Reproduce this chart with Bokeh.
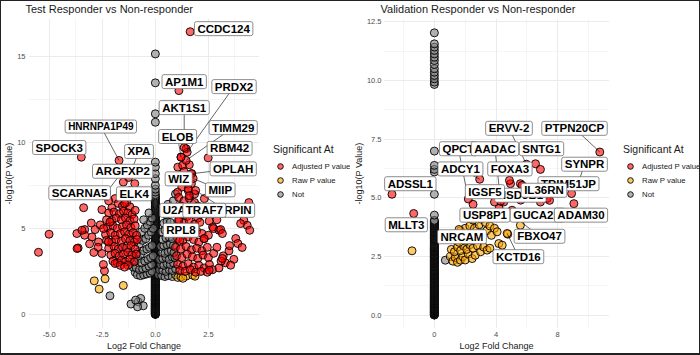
from bokeh.plotting import figure
from bokeh.models import ColumnDataSource, FixedTicker, Legend, LegendItem, Label
from bokeh.layouts import row
from bokeh.embed import file_html
from bokeh.resources import INLINE

FONT = "Liberation Sans"

# ------------------------------------------------------------------ data: left panel
left_title = "Test Responder vs Non-responder"
left_x_ticks = [-5.0, -2.5, 0.0, 2.5]
left_x_labels = ["-5.0", "-2.5", "0.0", "2.5"]
left_x_minor = [-3.75, -1.25, 1.25, 3.75]
left_y_ticks = [0, 5, 10, 15]
left_y_labels = ["0", "5", "10", "15"]
left_y_minor = [2.5, 7.5, 12.5]

# "Not" genes with log2FC == 0 (the stacked column), read in two passes
left_zero_col_logp = [
    0.0, 0.02, 0.05, 0.08, 0.11, 0.14, 0.17, 0.2, 0.23, 0.26, 0.29, 0.32, 0.35, 0.39, 0.42, 0.45,
    0.48, 0.52, 0.55, 0.58, 0.62, 0.65, 0.68, 0.72, 0.75, 0.79, 0.82, 0.86, 0.89, 0.93, 0.96, 1.0,
    1.04, 1.07, 1.11, 1.15, 1.18, 1.22, 1.26, 1.3, 1.34, 1.37, 1.41, 1.45, 1.49, 1.53, 1.57, 1.61,
    1.65, 1.69, 1.73, 1.77, 1.81, 1.86, 1.9, 1.94, 1.98, 2.02, 2.07, 2.11, 2.15, 2.2, 2.24, 2.28,
    2.33, 2.37, 2.42, 2.46, 2.51, 2.55, 2.6, 2.64, 2.69, 2.74, 2.78, 2.83, 2.88, 2.93, 2.97, 3.02,
    3.07, 3.12, 3.17, 3.22, 3.27, 3.32, 3.37, 3.42, 3.47, 3.52, 3.58, 3.63, 3.68, 3.74, 3.79, 3.84,
    3.9, 3.95, 4.01, 4.06, 4.12, 4.18, 4.24, 4.29, 4.35, 4.41, 4.47, 4.53, 4.59, 4.65, 4.72, 4.78,
    4.84, 4.91, 4.97, 5.04, 5.1, 5.17, 5.24, 5.31, 5.38, 5.45, 5.52, 5.6, 5.67, 5.75, 5.83, 5.91,
    5.99, 6.08, 6.17, 6.26, 6.36, 6.46, 6.57, 6.69, 6.82, 6.96, 7.11, 7.28, 7.5, 7.89, 8.18, 8.56,
    8.85, 11.17, 11.66, 13.46, 15.14]
left_zero_col_logp_b = [
    0.01, 0.035, 0.065, 0.095, 0.125, 0.155, 0.185, 0.215, 0.245, 0.275, 0.305, 0.335, 0.37, 0.405,
    0.435, 0.465, 0.5, 0.535, 0.565, 0.6, 0.635, 0.665, 0.7, 0.735, 0.77, 0.805, 0.84, 0.875, 0.91,
    0.945, 0.98, 1.02, 1.055, 1.09, 1.13, 1.165, 1.2, 1.24, 1.28, 1.32, 1.355, 1.39, 1.43, 1.47,
    1.51, 1.55, 1.59, 1.63, 1.67, 1.71, 1.75, 1.79, 1.835, 1.88, 1.92, 1.96, 2.0, 2.045, 2.09, 2.13,
    2.175, 2.22, 2.26, 2.305, 2.35, 2.395, 2.44, 2.485, 2.53, 2.575, 2.62, 2.665, 2.715, 2.76,
    2.805, 2.855, 2.905, 2.95, 2.995, 3.045, 3.095, 3.145, 3.195, 3.245, 3.295, 3.345, 3.395,
    3.445, 3.495, 3.55, 3.605, 3.655, 3.71, 3.765, 3.815, 3.87, 3.925, 3.98, 4.035, 4.09, 4.15,
    4.21, 4.265, 4.32, 4.38, 4.44, 4.5, 4.56, 4.62, 4.685, 4.75, 4.81, 4.875, 4.94, 5.005, 5.07,
    5.135, 5.205, 5.275, 5.345, 5.415, 5.485, 5.56, 5.635, 5.71, 5.79, 5.87, 5.95, 6.035, 6.125,
    6.215, 6.31, 6.41, 6.515, 6.63, 6.755, 6.89]

left_not = [
    (-0.95, 2.45), (-0.85, 2.3), (-0.7, 2.25), (-0.55, 2.3), (-0.4, 2.35), (-0.25, 2.4), (-0.15, 2.5),
    (-1.05, 2.75), (-0.9, 2.7), (-0.75, 2.6), (-0.6, 2.65), (-0.45, 2.7), (-0.3, 2.8), (-0.18, 2.9),
    (-0.95, 3.1), (-0.8, 3.2), (-0.65, 3.0), (-0.5, 3.1), (-0.35, 3.2), (-0.22, 3.3), (-0.1, 3.4),
    (-0.85, 3.6), (-0.7, 3.5), (-0.55, 3.7), (-0.4, 3.8), (-0.28, 3.9), (-0.15, 4.0),
    (-0.75, 4.1), (-0.6, 4.3), (-0.45, 4.4), (-0.32, 4.6), (-0.2, 4.8), (-0.1, 5.0),
    (-0.65, 4.8), (-0.5, 5.0), (-0.38, 5.2), (-0.25, 5.4), (-0.15, 5.6), (-0.55, 5.5), (-0.3, 5.9),
    (-2.14, 1.08), (-1.15, 0.6), (-0.81, 0.73), (-0.69, 0.93), (-0.57, 0.5), (-0.84, 0.44), (-0.93, 0.83),
    (0.15, 2.3), (0.3, 2.25), (0.45, 2.2), (0.6, 2.25), (0.8, 2.2), (0.95, 2.3),
    (0.2, 2.6), (0.35, 2.55), (0.5, 2.5), (0.65, 2.6), (0.8, 2.55), (0.95, 2.65),
    (0.25, 2.9), (0.4, 2.85), (0.55, 2.95), (0.7, 2.9), (0.85, 3.0),
    (0.2, 3.2), (0.35, 3.25), (0.5, 3.3), (0.65, 3.2), (0.8, 3.35), (0.92, 3.3),
    (0.3, 3.6), (0.45, 3.55), (0.6, 3.65), (0.75, 3.7), (0.88, 3.6),
    (0.25, 3.95), (0.4, 4.0), (0.55, 4.05), (0.7, 4.1), (0.85, 4.0),
    (0.35, 4.35), (0.5, 4.45), (0.65, 4.5), (0.8, 4.4),
    (0.3, 4.8), (0.45, 4.9), (0.6, 4.95), (0.75, 4.85),
    (0.4, 5.3), (0.55, 5.4), (0.7, 5.35), (0.5, 5.8), (0.65, 6.0), (0.6, 6.4),
    (0.85, 6.6), (0.95, 7.0)]

left_raw = [(-2.88, 1.95), (-2.37, 2.07), (-2.65, 1.47), (-1.51, 1.68),
            (1.06, 2.15), (1.21, 2.18), (1.45, 2.22), (1.76, 2.28), (1.87, 2.22), (1.3, 2.1)]

left_adj = [
    (-1.9, 6.73), (-1.75, 6.45), (-1.55, 6.3), (-1.35, 6.5), (-1.2, 6.25), (-2.05, 6.2),
    (-2.2, 5.9), (-1.95, 5.95), (-1.7, 5.85), (-1.5, 6.0), (-1.3, 5.9), (-1.1, 5.8), (-0.95, 6.05),
    (-2.3, 5.5), (-2.05, 5.45), (-1.85, 5.6), (-1.6, 5.5), (-1.4, 5.6), (-1.2, 5.45), (-1.0, 5.55),
    (-2.25, 5.05), (-2.0, 5.15), (-1.8, 5.0), (-1.55, 5.1), (-1.35, 5.2), (-1.15, 5.05), (-0.95, 5.15),
    (-2.35, 4.65), (-2.1, 4.75), (-1.9, 4.6), (-1.65, 4.7), (-1.45, 4.8), (-1.25, 4.65), (-1.05, 4.75), (-0.88, 4.6),
    (-2.3, 4.3), (-2.05, 4.2), (-1.85, 4.35), (-1.6, 4.25), (-1.4, 4.4), (-1.2, 4.3), (-1.0, 4.2), (-0.85, 4.35),
    (-2.2, 3.85), (-1.95, 3.95), (-1.75, 3.8), (-1.55, 3.9), (-1.35, 3.85), (-1.15, 4.0), (-0.95, 3.8),
    (-2.1, 3.45), (-1.9, 3.55), (-1.7, 3.4), (-1.5, 3.5), (-1.3, 3.6), (-1.1, 3.45), (-0.9, 3.5),
    (-2.0, 3.1), (-1.8, 3.0), (-1.6, 3.15), (-1.4, 3.05), (-1.2, 3.2), (-1.0, 3.05),
    (-1.9, 2.96), (-1.65, 2.85), (-1.28, 2.86), (-1.45, 2.75),
    (-1.51, 7.69), (-0.97, 7.6), (-1.2, 7.2), (-3.38, 6.2), (-2.52, 6.09), (-5.01, 4.66), (-5.51, 3.61),
    (-3.7, 4.7), (-3.33, 4.93), (-3.33, 4.6), (-3.64, 3.86), (-3.02, 5.31), (-2.84, 4.93), (-2.99, 4.5),
    (-2.68, 4.21), (-2.21, 4.21), (-2.14, 5.37), (-2.52, 3.54), (-2.4, 2.53), (-2.7, 3.9), (-2.6, 5.2),
    (-2.9, 3.6), (-3.1, 4.1), (-2.45, 2.9), (-2.44, 4.99), (-3.46, 4.89), (-3.69, 3.83),
    (1.45, 9.63), (1.21, 9.14), (1.06, 8.56), (1.29, 8.66), (1.71, 8.18), (1.35, 8.3), (1.6, 8.7),
    (1.15, 7.9), (1.4, 7.75), (1.7, 7.6), (1.25, 7.4), (1.55, 7.2), (1.05, 7.1), (1.85, 7.0),
    (1.1, 6.8), (1.35, 6.6), (1.6, 6.75), (1.85, 6.5), (1.2, 6.3), (1.45, 6.2), (1.7, 6.1), (2.0, 6.3), (2.31, 6.73),
    (1.0, 5.9), (1.25, 5.8), (1.5, 5.7), (1.75, 5.85), (2.0, 5.6), (1.1, 5.4), (1.35, 5.3), (1.6, 5.45),
    (1.85, 5.25), (2.1, 5.35), (2.7, 5.08), (2.54, 5.43),
    (0.95, 4.9), (1.2, 4.8), (1.45, 4.95), (1.7, 4.75), (1.95, 4.85), (2.2, 4.7), (1.05, 4.4), (1.3, 4.3),
    (1.55, 4.5), (1.8, 4.35), (2.05, 4.2), (2.3, 4.4), (2.74, 4.99), (3.0, 4.89), (3.08, 4.93), (3.16, 4.7), (2.5, 4.6),
    (0.95, 3.9), (1.2, 3.8), (1.45, 3.95), (1.7, 3.75), (1.95, 3.85), (2.2, 3.7), (2.45, 3.9), (1.0, 3.4),
    (1.25, 3.3), (1.5, 3.5), (1.75, 3.35), (2.0, 3.25), (2.25, 3.45), (2.5, 3.3), (2.75, 3.55), (3.47, 3.69),
    (3.2, 3.4), (2.9, 3.9),
    (1.05, 2.9), (1.3, 2.8), (1.55, 2.95), (1.8, 2.75), (2.05, 2.85), (2.3, 2.7), (2.55, 2.9), (1.15, 2.55),
    (1.4, 2.5), (1.65, 2.6), (1.9, 2.45), (2.15, 2.5), (2.45, 2.45), (2.7, 2.6), (3.0, 2.7), (3.3, 3.0),
    (4.41, 6.5), (4.17, 5.47), (4.33, 5.18), (4.45, 4.89), (3.79, 4.41), (3.89, 4.12), (4.09, 3.89),
    (4.02, 5.28), (3.5, 4.0), (3.7, 3.2), (3.1, 3.1), (2.6, 6.0), (2.9, 5.5), (3.16, 3.25), (3.55, 2.86),
    (2.54, 2.57), (2.3, 4.41)]

left_genes = ["CCDC124", "AP1M1", "PRDX2", "AKT1S1", "HNRNPA1P49", "TIMM29", "ELOB", "SPOCK3",
              "RBM42", "XPA", "OPLAH", "ARGFXP2", "WIZ", "MIIP", "SCARNA5", "ELK4", "U2AF1",
              "SHARPIN", "TRAF7", "RPL8"]
left_gene_lfc = [1.64, 1.11, 1.5, 1.36, -1.71, 1.45, 1.21, -3.49, 2.49, -1.26, 1.71, -2.3, 1.55,
                 1.78, -2.2, -1.45, 1.1, 1.9, 1.6, 1.15]
left_gene_logp = [16.43, 13.01, 9.43, 9.7, 8.95, 8.95, 9.14, 9.14, 9.1, 7.96, 8.18, 7.1, 7.3, 7.9,
                  6.6, 6.45, 5.5, 7.2, 6.9, 4.3]
left_gene_sig = ["adj"] * 20

# label placement (repel layout) for the left panel
left_label_x = [3.22, 1.36, 3.71, 1.36, -2.57, 3.67, 1.05, -4.53, 3.5, -0.77, 3.67, -1.54, 1.1,
                3.06, -3.57, -1.0, 1.21, 3.32, 2.31, 1.21]
left_label_y = [16.61, 13.53, 13.24, 12.02, 10.92, 10.86, 10.34, 9.7, 9.65, 9.47, 8.46, 8.32, 7.88,
                7.24, 7.07, 7.01, 6.05, 6.05, 6.05, 4.89]
left_with_segment = ["PRDX2", "AKT1S1", "HNRNPA1P49", "TIMM29", "ELOB", "XPA", "OPLAH", "ARGFXP2",
                     "WIZ", "MIIP", "SCARNA5", "TRAF7", "SHARPIN"]

# ------------------------------------------------------------------ data: right panel
right_title = "Validation Responder vs Non-responder"
right_x_ticks = [0, 4, 8]
right_x_labels = ["0", "4", "8"]
right_x_minor = [-2, 2, 6, 10]
right_y_ticks = [0.0, 2.5, 5.0, 7.5, 10.0, 12.5]
right_y_labels = ["0.0", "2.5", "5.0", "7.5", "10.0", "12.5"]
right_y_minor = [1.25, 3.75, 6.25, 8.75, 11.25]

right_zero_col_logp = [
    0.0, 0.02, 0.04, 0.06, 0.09, 0.11, 0.13, 0.16, 0.18, 0.21, 0.23, 0.26, 0.28, 0.31, 0.33, 0.36,
    0.39, 0.41, 0.44, 0.47, 0.49, 0.52, 0.55, 0.58, 0.61, 0.63, 0.66, 0.69, 0.72, 0.75, 0.78, 0.81,
    0.84, 0.87, 0.9, 0.93, 0.96, 0.99, 1.02, 1.05, 1.08, 1.12, 1.15, 1.18, 1.21, 1.24, 1.28, 1.31,
    1.34, 1.37, 1.41, 1.44, 1.47, 1.51, 1.54, 1.57, 1.61, 1.64, 1.68, 1.71, 1.74, 1.78, 1.81, 1.85,
    1.88, 1.92, 1.95, 1.99, 2.03, 2.06, 2.1, 2.13, 2.17, 2.21, 2.24, 2.28, 2.32, 2.35, 2.39, 2.43,
    2.47, 2.5, 2.54, 2.58, 2.62, 2.66, 2.7, 2.74, 2.78, 2.81, 2.85, 2.89, 2.93, 2.97, 3.01, 3.05,
    3.1, 3.14, 3.18, 3.22, 3.26, 3.3, 3.34, 3.39, 3.43, 3.47, 3.52, 3.56, 3.6, 3.65, 3.69, 3.74,
    3.78, 3.83, 3.88, 3.93, 3.98, 4.04, 4.26, 5.15, 6.1, 6.21, 6.38, 6.99, 9.83, 9.93, 10.07,
    10.21, 10.35, 10.5, 10.68, 10.85, 10.99, 11.13, 11.28, 11.42, 11.56, 12.03]
right_zero_col_logp_b = [
    0.01, 0.03, 0.05, 0.075, 0.1, 0.12, 0.145, 0.17, 0.195, 0.22, 0.245, 0.27, 0.295, 0.32, 0.345,
    0.375, 0.4, 0.425, 0.455, 0.48, 0.505, 0.535, 0.565, 0.595, 0.62, 0.645, 0.675, 0.705, 0.735,
    0.765, 0.795, 0.825, 0.855, 0.885, 0.915, 0.945, 0.975, 1.005, 1.035, 1.065, 1.1, 1.135, 1.165,
    1.195, 1.225, 1.26, 1.295, 1.325, 1.355, 1.39, 1.425, 1.455, 1.49, 1.525, 1.555, 1.59, 1.625,
    1.66, 1.695, 1.725, 1.76, 1.795, 1.83, 1.865, 1.9, 1.935, 1.97, 2.01, 2.045, 2.08, 2.115, 2.15,
    2.19, 2.225, 2.26, 2.3, 2.335, 2.37, 2.41, 2.45, 2.485, 2.52, 2.56, 2.6, 2.64, 2.68, 2.72,
    2.76, 2.795, 2.83, 2.87, 2.91, 2.95, 2.99, 3.03, 3.075, 3.12, 3.16, 3.2, 3.24, 3.28, 3.32,
    3.365, 3.41, 3.45, 3.495, 3.54, 3.58, 3.625, 3.67, 3.715, 3.76, 3.805, 3.855, 3.905, 3.955,
    4.01]

right_not = [(0.71, 2.34)]

right_raw = [
    (-1.45, 2.74),
    (1.04, 2.5), (1.2, 2.3), (1.35, 2.45), (1.5, 2.25), (1.69, 2.34), (1.85, 2.5), (2.0, 2.35),
    (2.2, 2.6), (2.45, 2.41), (2.65, 2.55),
    (1.1, 2.8), (1.3, 2.7), (1.5, 2.9), (1.7, 2.75), (1.9, 2.95), (2.1, 2.8), (2.3, 3.0), (2.5, 2.85),
    (2.8, 2.95), (3.0, 2.7), (3.2, 2.9), (3.42, 2.77), (3.6, 2.85),
    (1.4, 3.2), (1.6, 3.1), (1.8, 3.3), (2.0, 3.15), (2.2, 3.35), (2.4, 3.2), (2.6, 3.4), (2.9, 3.3),
    (3.1, 3.5), (3.4, 3.6), (3.7, 3.4), (4.18, 3.05), (4.4, 2.98),
    (1.7, 3.6), (2.0, 3.7), (2.3, 3.8), (2.6, 3.7), (2.9, 3.85), (3.3, 3.95), (3.6, 3.8), (3.9, 3.7),
    (4.07, 3.55), (4.76, 3.45), (5.58, 3.83), (2.5, 4.05), (3.0, 4.1)]

right_adj = [(4.94, 5.6), (5.58, 5.6), (6.56, 6.45), (3.9, 4.82), (4.5, 4.82), (5.6, 4.9),
             (6.88, 4.82), (7.32, 4.97), (6.3, 5.0), (4.2, 4.55)]

right_genes = ["ERVV-2", "PTPN20CP", "QPCT", "AADAC", "SNTG1", "SYNPR", "ADCY1", "FOXA3", "ADSSL1",
               "TRIM51JP", "HSD3B1", "IGSF5", "IL36RN", "USP8P1", "GUCA2B", "ADAM30", "MLLT3",
               "NRCAM", "FBXO47", "KCTD16"]
right_gene_lfc = [5.97, 10.73, 2.2, 4.3, 6.88, 9.3, 2.94, 4.87, -2.75, 8.9, 5.69, 2.51, 7.47, 1.9,
                  5.04, 9.05, -1.34, 1.6, 4.98, 4.72]
right_gene_logp = [6.43, 6.95, 4.95, 4.85, 6.21, 5.55, 5.79, 5.74, 5.15, 5.18, 5.53, 4.72, 4.89,
                   3.2, 4.47, 4.75, 4.33, 3.65, 4.3, 3.48]
right_gene_sig = ["adj"] * 13 + ["raw"] + ["adj"] * 3 + ["raw", "adj", "raw"]

right_label_x = [4.84, 9.09, 1.56, 3.93, 6.95, 9.74, 1.69, 4.9, -1.56, 8.7, 5.58, 3.28, 7.11, 3.28,
                 6.69, 9.51, -1.82, 1.79, 6.82, 5.45]
right_label_y = [7.96, 7.96, 7.09, 7.09, 7.09, 6.43, 6.23, 6.23, 5.6, 5.6, 5.11, 5.26, 5.32, 4.26,
                 4.26, 4.26, 3.85, 3.34, 3.36, 2.49]
right_with_segment = ["ERVV-2", "PTPN20CP", "QPCT", "AADAC", "SYNPR", "ADCY1", "USP8P1", "GUCA2B",
                      "FBXO47", "KCTD16"]

legend_title = "Significant At"
legend_labels = ["Adjusted P value", "Raw P value", "Not"]

# ------------------------------------------------------------------ styling
COL = {"adj": "red", "raw": "orange", "not": "grey"}
PT = dict(size=8, fill_alpha=0.6, line_color="black", line_alpha=1.0, line_width=0.9)


def cols(pairs):
    return [p[0] for p in pairs], [p[1] for p in pairs]


def make_panel(title, xr, yr, xt, xl, xm, yt, yl, ym, zero_col, not_pts, raw_pts, adj_pts,
               genes, g_lfc, g_logp, g_sig, lab_x, lab_y, seg_names, min_left, min_right,
               y_label_standoff):
    p = figure(width=259, height=352, x_range=xr, y_range=yr, output_backend="svg",
               toolbar_location=None, min_border_left=min_left, min_border_right=min_right,
               min_border_top=17, min_border_bottom=25)
    p.outline_line_color = None
    p.background_fill_color = "white"
    p.border_fill_color = "white"

    p.title.text = title
    p.title.text_font = FONT
    p.title.text_font_size = "11px"
    p.title.text_font_style = "normal"
    p.title.text_color = "#1a1a1a"
    p.title.offset = -3
    p.title.standoff = 3
    p.title.vertical_align = "top"

    p.xaxis.ticker = FixedTicker(ticks=xt, minor_ticks=xm)
    p.yaxis.ticker = FixedTicker(ticks=yt, minor_ticks=ym)
    p.xaxis.major_label_overrides = {t: s for t, s in zip(xt, xl)}
    p.yaxis.major_label_overrides = {t: s for t, s in zip(yt, yl)}
    for ax in (p.xaxis, p.yaxis):
        ax.axis_line_color = None
        ax.major_tick_line_color = None
        ax.minor_tick_line_color = None
        ax.major_tick_out = 0
        ax.major_tick_in = 0
        ax.minor_tick_out = 0
        ax.minor_tick_in = 0
        ax.major_label_text_font = FONT
        ax.major_label_text_font_size = "7.5px"
        ax.major_label_text_color = "#4d4d4d"
        ax.major_label_standoff = 3
        ax.axis_label_text_font = FONT
        ax.axis_label_text_font_size = "9px"
        ax.axis_label_text_font_style = "normal"
        ax.axis_label_text_color = "#1a1a1a"
        ax.axis_label_standoff = 1
    p.yaxis.major_label_standoff = y_label_standoff
    p.yaxis.axis_label_standoff = 0
    p.xaxis.axis_label = "Log2 Fold Change"
    p.yaxis.axis_label = "-log10(P Value)"
    for g in (p.xgrid, p.ygrid):
        g.grid_line_color = "#ebebeb"
        g.grid_line_width = 1
        g.minor_grid_line_color = "#ebebeb"
        g.minor_grid_line_width = 0.5

    nx, ny = cols(not_pts)
    col_y = sorted(zero_col)
    nx = [0.0] * len(col_y) + nx
    ny = col_y + ny
    rx, ry = cols(raw_pts)
    ax_, ay = cols(adj_pts)
    for gx, gy, gs in zip(g_lfc, g_logp, g_sig):
        if gs == "adj":
            ax_.append(gx); ay.append(gy)
        elif gs == "raw":
            rx.append(gx); ry.append(gy)
        else:
            nx.append(gx); ny.append(gy)

    for key, xs, ys in (("not", nx, ny), ("raw", rx, ry), ("adj", ax_, ay)):
        src = ColumnDataSource(dict(x=xs, y=ys))
        p.scatter("x", "y", source=src, fill_color=COL[key], **PT)

    # connector segments
    sx0, sy0, sx1, sy1 = [], [], [], []
    for name, lx, ly, gx, gy in zip(genes, lab_x, lab_y, g_lfc, g_logp):
        if name in seg_names:
            sx0.append(lx); sy0.append(ly); sx1.append(gx); sy1.append(gy)
    p.segment(x0=sx0, y0=sy0, x1=sx1, y1=sy1, line_color="black", line_width=0.6)

    for name, lx, ly in zip(genes, lab_x, lab_y):
        fs = "10px" if name == "HNRNPA1P49" else "11.5px"
        lab = Label(x=lx, y=ly, text=name, text_font=FONT, text_font_style="bold",
                    text_font_size=fs, text_align="center", text_baseline="middle",
                    text_color="black", background_fill_color="white",
                    border_line_color="#707070", border_line_width=0.8,
                    padding=dict(left=3, right=3, top=1, bottom=1), border_radius=2)
        p.add_layout(lab)
    return p


def make_legend_panel(width, x_off):
    lp = figure(width=width, height=352, x_range=(0, 1), y_range=(0, 1), output_backend="svg",
                toolbar_location=None, min_border=0, title=None)
    lp.axis.visible = False
    lp.grid.visible = False
    lp.outline_line_color = None
    lp.border_fill_color = "white"
    rends = {}
    for key in ("adj", "raw", "not"):
        # a key-only renderer: its single point lies outside the visible range
        rends[key] = lp.scatter(x=[5], y=[5], fill_color=COL[key], **PT)
    legend = Legend(items=[LegendItem(label=legend_labels[0], renderers=[rends["adj"]]),
                           LegendItem(label=legend_labels[1], renderers=[rends["raw"]]),
                           LegendItem(label=legend_labels[2], renderers=[rends["not"]])],
                    title=legend_title, location=(x_off, 127))
    legend.title_text_font = FONT
    legend.title_text_font_size = "10.5px"
    legend.title_text_font_style = "normal"
    legend.title_text_color = "#1a1a1a"
    legend.title_standoff = 4
    legend.label_text_font = FONT
    legend.label_text_font_size = "7.8px"
    legend.label_text_color = "#1a1a1a"
    legend.glyph_width = 14
    legend.glyph_height = 14
    legend.label_height = 14
    legend.label_standoff = 5
    legend.spacing = 0
    legend.padding = 2
    legend.margin = 0
    legend.border_line_color = None
    legend.background_fill_alpha = 0
    lp.add_layout(legend)
    return lp


p1 = make_panel(left_title, (-5.98, 4.91), (-0.82, 17.2), left_x_ticks, left_x_labels, left_x_minor,
                left_y_ticks, left_y_labels, left_y_minor,
                left_zero_col_logp + left_zero_col_logp_b, left_not, left_raw,
                left_adj, left_genes, left_gene_lfc, left_gene_logp, left_gene_sig, left_label_x,
                left_label_y, left_with_segment, 25, 1, 3)
l1 = make_legend_panel(90, 13)
p2 = make_panel(right_title, (-3.3, 11.36), (-0.57, 12.64), right_x_ticks, right_x_labels,
                right_x_minor, right_y_ticks, right_y_labels, right_y_minor,
                right_zero_col_logp + right_zero_col_logp_b,
                right_not, right_raw, right_adj, right_genes, right_gene_lfc, right_gene_logp,
                right_gene_sig, right_label_x, right_label_y, right_with_segment, 31, 0, 2)
l2 = make_legend_panel(90, 14)

layout = row(p1, l1, p2, l2,
             styles={"border": "1px solid #222222", "border-bottom": "2px solid #222222"})

open("out.html", "w").write(file_html(layout, INLINE))
